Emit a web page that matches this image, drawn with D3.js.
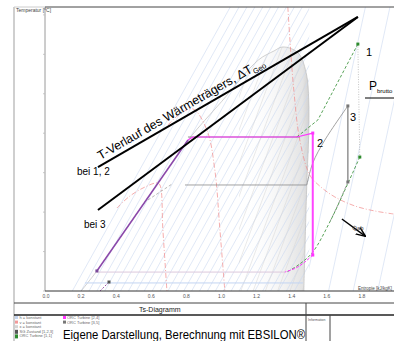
<!DOCTYPE html>
<meta charset="utf-8">
<script src="https://d3js.org/d3.v7.min.js"></script>
<style>
  body { margin: 0; background: #fff; }
  text { font-family: "Liberation Sans", Arial, sans-serif; }
</style>
<div id="chart"></div>
<script>
  // Ts-Diagramm: Entropie s [kJ/kgK], Temperatur T [°C]
  var xTicks = [0, 0.2, 0.4, 0.6, 0.8, 1.0, 1.2, 1.4, 1.6, 1.8];
  var yTicks = [0, 25, 50, 75, 100, 125, 150, 175];

  // saturation dome
  var satLiqS = [0.20, 0.29, 0.45, 0.62, 0.81, 1.00, 1.21, 1.30, 1.344];
  var satLiqT = [0, 12.7, 38.2, 65.5, 95.7, 120, 146.4, 152.2, 154.6];
  var satVapS = [1.344, 1.40, 1.446, 1.485, 1.497, 1.497, 1.486, 1.469];
  var satVapT = [154.6, 153.5, 149.6, 136.9, 121.1, 100, 67.2, 0];

  // background iso lines (bottom s at T=0, top s at T=180)
  var isoLeftBottom = [0.15, 0.20, 0.245, 0.29, 0.335, 0.38, 0.425, 0.47, 0.515, 0.56, 0.605, 0.65, 0.695, 0.74, 0.785, 0.83, 0.875, 0.92, 0.965, 1.01, 1.055, 1.10, 1.145, 1.19, 1.235, 1.28, 1.325, 1.37, 1.415];
  var isoLeftTop = [1.05, 1.10, 1.145, 1.19, 1.235, 1.28, 1.325, 1.37, 1.415, 1.46, 1.505, 1.55, 1.595, 1.64, 1.685, 1.73, 1.775, 1.82, 1.865, 1.91, 1.955, 2.0, 2.045, 2.09, 2.135, 2.18, 2.225, 2.27, 2.315];
  var isoRightBottom = [1.47, 1.61, 1.75, 1.89];
  var isoRightTop = [1.82, 1.96, 2.10, 2.24];
  var domeHatchBottom = [0.55, 0.62, 0.69, 0.76, 0.83, 0.90, 0.97, 1.04, 1.11, 1.18, 1.25, 1.32, 1.39, 1.46];
  var domeHatchTop = [1.15, 1.22, 1.29, 1.36, 1.43, 1.50, 1.57, 1.64, 1.71, 1.78, 1.85, 1.92, 1.99, 2.06];

  // v = konstant (pink dash-dot)
  var isoVA_S = [0.404, 0.478, 0.564, 0.632, 0.649, 0.666, 0.689];
  var isoVA_T = [52.6, 60.2, 65.9, 68.5, 67.2, 38.7, 0];
  var isoVB_S = [0.695, 0.763, 0.837, 0.917, 0.962, 0.991, 1.019];
  var isoVB_T = [105.2, 112.2, 115.4, 102.0, 76.7, 38.7, 0];
  var isoVC_S = [1.378, 1.390, 1.412, 1.446, 1.503, 1.560, 1.646, 1.760, 1.874, 1.982];
  var isoVC_T = [180, 159.1, 127.4, 95.7, 73.5, 66.5, 59.6, 53.9, 50.7, 48.8];

  // heat source lines
  var heatS = [0.296, 1.777];
  var heatT12 = [78.5, 173.7];
  var heatT3 = [51.3, 173.7];

  // process 2 (magenta)
  var liqS = [0.290, 0.809];
  var liqT = [12.7, 95.7];
  var p2S = [0.809, 0.837, 1.429, 1.520];
  var p2T = [95.7, 97.6, 97.6, 100.1];
  var p2ExpS = [1.520, 1.520];
  var p2ExpT = [100.1, 22.8];
  var p2DesS = [1.520, 1.475, 1.424, 1.361];
  var p2DesT = [22.8, 18.4, 14.6, 12.0];

  // process 1 (green)
  var p1HeatS = [1.429, 1.549, 1.777];
  var p1HeatT = [97.6, 108.4, 156.5];
  var p1ExpS = [1.777, 1.788];
  var p1ExpT = [156.5, 84.9];
  var p1DesS = [1.788, 1.703, 1.617, 1.520, 1.446, 1.372];
  var p1DesT = [84.9, 64.0, 43.7, 24.7, 17.1, 12.0];

  // process 3 (grey)
  var p3LiqS = [0.581, 0.718];
  var p3LiqT = [57.7, 67.8];
  var p3EvapS = [0.792, 1.486];
  var p3EvapT = [67.2, 67.2];
  var p3SupS = [1.486, 1.520, 1.589, 1.720];
  var p3SupT = [67.2, 81.1, 95.7, 117.3];
  var p3ExpS = [1.720, 1.720];
  var p3ExpT = [117.3, 69.1];
  var p3DesS = [1.720, 1.663, 1.617];
  var p3DesT = [69.1, 54.5, 43.7];

  // condenser / pump
  var condS = [0.29, 1.361];
  var condT = [12.0, 12.0];
  var coolS = [0.222, 1.464];
  var coolT = [5.1, 5.1];
  var pumpS = [0.308, 0.359];
  var pumpT = [0, 5.7];

  var arrowS = [1.686, 1.817];
  var arrowT = [45.6, 34.9];

  var legendLeft = ["h = konstant", "v = konstant", "x = konstant", "SG Zustand [1,2,3]", "ORC Turbine [1,1]"];
  var legendLeftColors = ["#c5d5ef", "#f29a9a", "#d4d4d4", "#555555", "#2e8b2e"];
  var legendRight = ["ORC Turbine [2,4]", "ORC Turbine [3,5]"];
  var legendRightColors = ["#ff33ff", "#777777"];

  var W = 394, H = 341;
  var svg = d3.select("#chart").append("svg")
    .attr("width", W).attr("height", H);

  var x = d3.scaleLinear().domain([0, 2]).range([46, 397]);
  var y = d3.scaleLinear().domain([0, 180]).range([291, 7]);

  function pts(S, T) { return S.map(function (s, i) { return [x(s), y(T[i])]; }); }
  var line = d3.line();
  var smooth = d3.line().curve(d3.curveCatmullRom);

  var defs = svg.append("defs");
  defs.append("clipPath").attr("id", "plotClip").append("rect")
    .attr("x", 45).attr("y", 7).attr("width", W - 45).attr("height", 284);
  defs.append("clipPath").attr("id", "leftClip").append("rect")
    .attr("x", 45).attr("y", 7).attr("width", x(1.5) - 45).attr("height", 284);
  defs.append("clipPath").attr("id", "rightClip").append("rect")
    .attr("x", x(1.5)).attr("y", 7).attr("width", W - x(1.5)).attr("height", 284);
  var domePts = pts(satLiqS, satLiqT).concat(pts(satVapS, satVapT).slice(1));
  defs.append("clipPath").attr("id", "domeClip").append("path")
    .attr("d", smooth(domePts) + "Z");
  defs.append("clipPath").attr("id", "domeRight").append("rect")
    .attr("x", x(1.1)).attr("y", 7).attr("width", W).attr("height", 284);
  var grad = defs.append("linearGradient").attr("id", "domeGrad")
    .attr("gradientUnits", "userSpaceOnUse")
    .attr("x1", x(1.12)).attr("x2", x(1.5)).attr("y1", 0).attr("y2", 0);
  grad.append("stop").attr("offset", "0%").attr("stop-color", "#fff").attr("stop-opacity", 0);
  grad.append("stop").attr("offset", "60%").attr("stop-color", "#f3f3f3");
  grad.append("stop").attr("offset", "90%").attr("stop-color", "#e4e4e4");
  grad.append("stop").attr("offset", "100%").attr("stop-color", "#d2d2d2");

  var plot = svg.append("g").attr("clip-path", "url(#plotClip)");

  // dome fill
  plot.append("path").attr("d", smooth(domePts) + "Z")
    .attr("fill", "url(#domeGrad)").attr("stroke", "none");

  // light blue iso lines
  var gl = plot.append("g").attr("clip-path", "url(#leftClip)");
  isoLeftBottom.forEach(function (s, i) {
    gl.append("path").attr("d", line(pts([s, isoLeftTop[i]], [0, 180])))
      .attr("stroke", "#cbd9f0").attr("stroke-width", 0.6).attr("fill", "none");
  });
  var gr = plot.append("g").attr("clip-path", "url(#rightClip)");
  isoRightBottom.forEach(function (s, i) {
    gr.append("path").attr("d", line(pts([s, isoRightTop[i]], [0, 180])))
      .attr("stroke", "#cbd9f0").attr("stroke-width", 0.6).attr("fill", "none");
  });

  // grey hatch in the dome
  var gd = plot.append("g").attr("clip-path", "url(#domeClip)")
    .append("g").attr("clip-path", "url(#domeRight)");
  domeHatchBottom.forEach(function (s, i) {
    gd.append("path").attr("d", line(pts([s, domeHatchTop[i]], [0, 180])))
      .attr("stroke", "#d4d4d4").attr("stroke-width", 0.5).attr("fill", "none");
  });

  // dome outline
  plot.append("path").attr("d", smooth(domePts))
    .attr("fill", "none").attr("stroke", "#bdbdbd").attr("stroke-width", 0.7);

  // v = konstant
  [[isoVA_S, isoVA_T], [isoVB_S, isoVB_T], [isoVC_S, isoVC_T]].forEach(function (d) {
    plot.append("path").attr("d", smooth(pts(d[0], d[1])))
      .attr("fill", "none").attr("stroke", "#f08a8a").attr("stroke-width", 0.7)
      .attr("stroke-dasharray", "5,2,1,2");
  });

  // condenser lines
  plot.append("path").attr("d", line(pts(coolS, coolT)))
    .attr("stroke", "#c2d4f2").attr("stroke-width", 1).attr("fill", "none");
  plot.append("path").attr("d", line(pts(condS, condT)))
    .attr("stroke", "#dcc8dc").attr("stroke-width", 1).attr("fill", "none");

  // process 3 grey
  plot.append("path").attr("d", line(pts(p3LiqS, p3LiqT)))
    .attr("stroke", "#999").attr("stroke-width", 0.7).attr("fill", "none").attr("stroke-dasharray", "3,2");
  plot.append("path").attr("d", line(pts(p3EvapS, p3EvapT)))
    .attr("stroke", "#8a8a8a").attr("stroke-width", 0.8).attr("fill", "none");
  plot.append("path").attr("d", smooth(pts(p3SupS, p3SupT)))
    .attr("stroke", "#8a8a8a").attr("stroke-width", 0.8).attr("fill", "none");
  plot.append("path").attr("d", line(pts(p3ExpS, p3ExpT)))
    .attr("stroke", "#8a8a8a").attr("stroke-width", 1.4).attr("fill", "none");
  plot.append("path").attr("d", smooth(pts(p3DesS, p3DesT)))
    .attr("stroke", "#8a8a8a").attr("stroke-width", 0.8).attr("fill", "none").attr("stroke-dasharray", "3,2");

  // process 1 green
  plot.append("path").attr("d", line(pts(p1HeatS, p1HeatT)))
    .attr("stroke", "#2e8b2e").attr("stroke-width", 0.8).attr("fill", "none").attr("stroke-dasharray", "3,2");
  plot.append("path").attr("d", line(pts(p1ExpS, p1ExpT)))
    .attr("stroke", "#aaa").attr("stroke-width", 0.7).attr("fill", "none").attr("stroke-dasharray", "1,1.5");
  plot.append("path").attr("d", smooth(pts(p1DesS, p1DesT)))
    .attr("stroke", "#2e8b2e").attr("stroke-width", 0.8).attr("fill", "none").attr("stroke-dasharray", "3,2");

  // process 2 magenta
  plot.append("path").attr("d", line(pts([0.809, 1.446], [97.6, 97.6])))
    .attr("stroke", "#777").attr("stroke-width", 0.8).attr("fill", "none");
  plot.append("path").attr("d", line(pts(p2S, p2T)))
    .attr("stroke", "#ff33ff").attr("stroke-width", 1.2).attr("fill", "none");
  plot.append("path").attr("d", line(pts(p2ExpS, p2ExpT)))
    .attr("stroke", "#ff44ff").attr("stroke-width", 2).attr("fill", "none");
  plot.append("path").attr("d", smooth(pts(p2DesS, p2DesT)))
    .attr("stroke", "#ff33ff").attr("stroke-width", 1).attr("fill", "none").attr("stroke-dasharray", "3,1.5");
  plot.append("path").attr("d", line(pts(liqS, liqT)))
    .attr("stroke", "#9a5ab8").attr("stroke-width", 1.6).attr("fill", "none");
  plot.append("path").attr("d", line(pts(liqS, liqT)))
    .attr("stroke", "#7a3a9a").attr("stroke-width", 0.6).attr("fill", "none");
  plot.append("path").attr("d", line(pts(pumpS, pumpT)))
    .attr("stroke", "#8a40a0").attr("stroke-width", 0.9).attr("fill", "none").attr("stroke-dasharray", "2,1.5");

  // state points
  var points = [
    [liqS[0], liqT[0], "#7a4a9a"], [pumpS[1], pumpT[1], "#555"],
    [p2ExpS[0], p2ExpT[0], "#ff33ff"], [p2ExpS[1], p2ExpT[1], "#ff33ff"],
    [p1ExpS[0], p1ExpT[0], "#2e8b2e"], [p1ExpS[1], p1ExpT[1], "#2e8b2e"],
    [p3ExpS[0], p3ExpT[0], "#777"], [p3ExpS[1], p3ExpT[1], "#777"]
  ];
  plot.selectAll("rect.pt").data(points).enter().append("rect").attr("class", "pt")
    .attr("x", function (d) { return x(d[0]) - 1.5; })
    .attr("y", function (d) { return y(d[1]) - 1.5; })
    .attr("width", 3).attr("height", 3)
    .attr("fill", function (d) { return d[2]; });

  // heat source lines
  plot.append("path").attr("d", line(pts(heatS, heatT12)))
    .attr("stroke", "#000").attr("stroke-width", 2).attr("fill", "none");
  plot.append("path").attr("d", line(pts(heatS, heatT3)))
    .attr("stroke", "#000").attr("stroke-width", 2).attr("fill", "none");

  // arrow Q_ab
  defs.append("marker").attr("id", "arr").attr("viewBox", "0 0 10 10")
    .attr("refX", 9).attr("refY", 5).attr("markerWidth", 7).attr("markerHeight", 7)
    .attr("orient", "auto").append("path").attr("d", "M0,1L10,5L0,9").attr("fill", "none")
    .attr("stroke", "#000").attr("stroke-width", 1.4);
  plot.append("path").attr("d", line(pts(arrowS, arrowT)))
    .attr("stroke", "#000").attr("stroke-width", 1.4).attr("fill", "none")
    .attr("marker-end", "url(#arr)");
  svg.append("text").attr("x", x(1.745)).attr("y", y(38.5)).attr("font-size", 6)
    .attr("fill", "#444").text("Q̇ab");

  // labels
  var ang = Math.atan2(y(heatT12[0]) - y(heatT12[1]), x(heatS[1]) - x(heatS[0])) * 180 / Math.PI;
  var lbl = svg.append("text").attr("font-size", 12.3).attr("fill", "#000")
    .attr("transform", "translate(" + (x(0.305) + 1) + "," + (y(80.5) - 4) + ") rotate(" + (-ang) + ")");
  lbl.append("tspan").text("T-Verlauf des Wärmeträgers, ΔT");
  lbl.append("tspan").attr("font-size", 7.5).attr("dy", 3).text("Geo");

  svg.append("text").attr("x", 77).attr("y", 175).attr("font-size", 10).text("bei 1, 2");
  svg.append("text").attr("x", 84).attr("y", 228).attr("font-size", 10).text("bei 3");
  svg.append("text").attr("x", 366).attr("y", 56).attr("font-size", 11).text("1");
  svg.append("text").attr("x", 317).attr("y", 147).attr("font-size", 11).text("2");
  svg.append("text").attr("x", 350).attr("y", 121).attr("font-size", 11).text("3");
  var pb = svg.append("text").attr("x", 369).attr("y", 90).attr("font-size", 12);
  pb.append("tspan").text("P");
  pb.append("tspan").attr("font-size", 6).attr("dy", 3).text("brutto");
  svg.append("line").attr("x1", 365).attr("x2", 394).attr("y1", 98).attr("y2", 98)
    .attr("stroke", "#000").attr("stroke-width", 1);

  // axes
  svg.append("line").attr("x1", 45).attr("x2", 45).attr("y1", 7).attr("y2", 291)
    .attr("stroke", "#9a9a9a").attr("stroke-width", 1);
  svg.append("line").attr("x1", 45).attr("x2", W).attr("y1", 7).attr("y2", 7)
    .attr("stroke", "#444").attr("stroke-width", 1);
  svg.append("line").attr("x1", 14).attr("x2", 45).attr("y1", 7).attr("y2", 7)
    .attr("stroke", "#ccc").attr("stroke-width", 1);
  svg.append("line").attr("x1", 45).attr("x2", W).attr("y1", 291).attr("y2", 291)
    .attr("stroke", "#333").attr("stroke-width", 1);
  svg.append("line").attr("x1", 14).attr("x2", 14).attr("y1", 7).attr("y2", 341)
    .attr("stroke", "#cfcfcf").attr("stroke-width", 2);
  svg.selectAll("line.yt").data(yTicks).enter().append("line").attr("class", "yt")
    .attr("x1", 43).attr("x2", 45)
    .attr("y1", function (d) { return y(d); }).attr("y2", function (d) { return y(d); })
    .attr("stroke", "#bbb").attr("stroke-width", 0.8);
  svg.selectAll("text.xt").data(xTicks).enter().append("text").attr("class", "xt")
    .attr("x", function (d) { return x(d); }).attr("y", 298)
    .attr("text-anchor", "middle").attr("font-size", 5).attr("fill", "#555")
    .text(function (d) { return d.toFixed(1); });
  svg.append("text").attr("x", 16).attr("y", 12).attr("font-size", 5).attr("fill", "#444")
    .text("Temperatur [°C]");
  svg.append("text").attr("x", 392).attr("y", 289.5).attr("font-size", 4.5).attr("fill", "#444")
    .attr("text-anchor", "end").text("Entropie [kJ/kgK]");

  // frame below plot
  svg.append("line").attr("x1", 14).attr("x2", W).attr("y1", 303).attr("y2", 303)
    .attr("stroke", "#444").attr("stroke-width", 1);
  svg.append("line").attr("x1", 14).attr("x2", W).attr("y1", 315).attr("y2", 315)
    .attr("stroke", "#222").attr("stroke-width", 1.5);
  svg.append("line").attr("x1", 306).attr("x2", 306).attr("y1", 303).attr("y2", H)
    .attr("stroke", "#444").attr("stroke-width", 1);
  svg.append("line").attr("x1", 330).attr("x2", 330).attr("y1", 315).attr("y2", H)
    .attr("stroke", "#444").attr("stroke-width", 1);
  svg.append("text").attr("x", 139).attr("y", 312).attr("font-size", 7).attr("fill", "#222")
    .text("Ts-Diagramm");
  svg.append("text").attr("x", 308).attr("y", 321).attr("font-size", 3.5).attr("fill", "#555")
    .text("Information");

  // legend
  legendLeft.forEach(function (t, i) {
    var yy = 318 + i * 4.6;
    svg.append("rect").attr("x", 15).attr("y", yy - 2).attr("width", 3).attr("height", i > 2 ? 4 : 3)
      .attr("fill", legendLeftColors[i]);
    svg.append("text").attr("x", 19.5).attr("y", yy + 1).attr("font-size", 4).attr("fill", "#666").text(t);
  });
  legendRight.forEach(function (t, i) {
    var yy = 318 + i * 4.6;
    svg.append("rect").attr("x", 63).attr("y", yy - 2).attr("width", 3).attr("height", 3)
      .attr("fill", legendRightColors[i]);
    svg.append("text").attr("x", 67).attr("y", yy + 1).attr("font-size", 4).attr("fill", "#666").text(t);
  });

  svg.append("text").attr("x", 63).attr("y", 339).attr("font-size", 12)
    .attr("textLength", 242).attr("lengthAdjust", "spacingAndGlyphs")
    .text("Eigene Darstellung, Berechnung mit EBSILON®");
</script>
